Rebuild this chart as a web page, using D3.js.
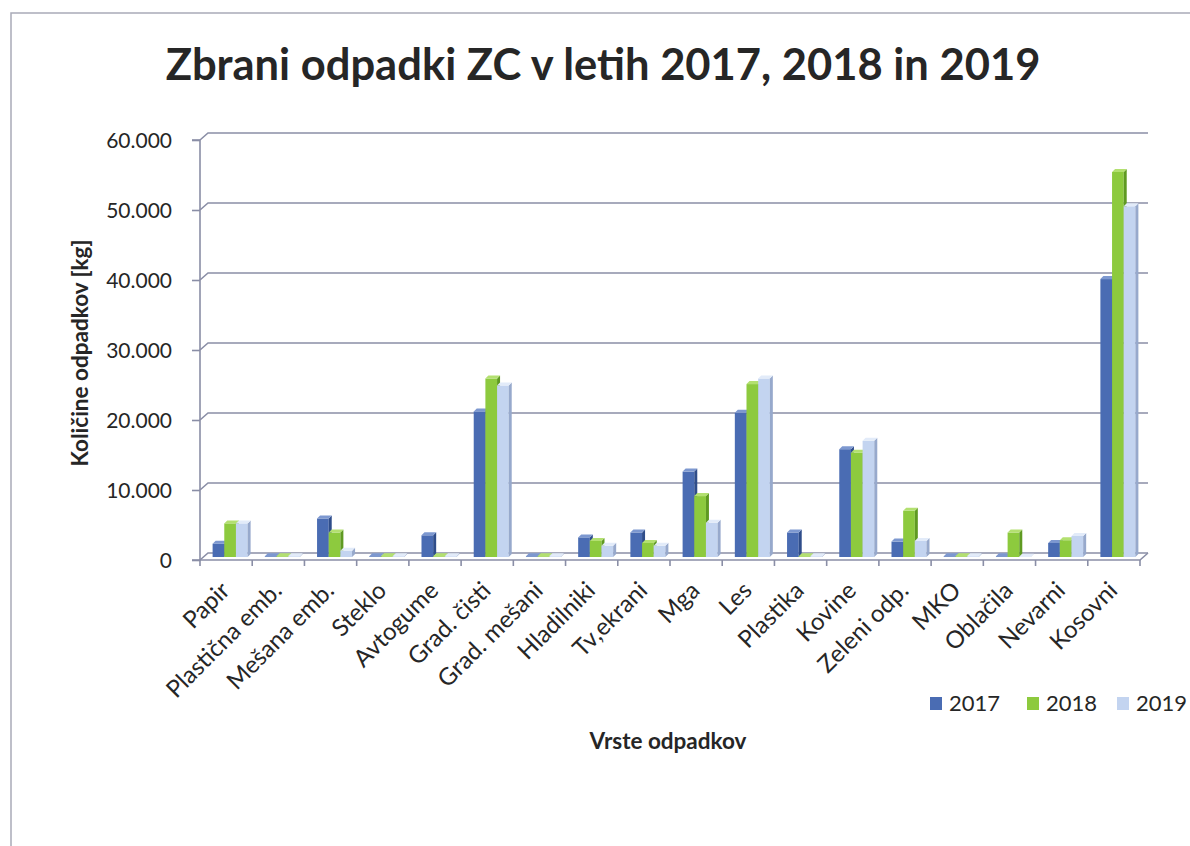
<!DOCTYPE html>
<html>
<head>
<meta charset="utf-8">
<title>Zbrani odpadki ZC</title>
<script src="https://d3js.org/d3.v7.min.js"></script>
<style>
 body { margin:0; background:#fff; }
 .title { font: bold 43.5px Lato, "Open Sans", sans-serif; fill:#262626; }
 .axis text { font: 21px Lato, "Open Sans", sans-serif; fill:#262626; }
 .xlab text { font: 24px Lato, "Open Sans", sans-serif; fill:#262626; }
 .axis-title { font: bold 22.5px Lato, "Open Sans", sans-serif; fill:#262626; }
 .legend text { font: 22px Lato, "Open Sans", sans-serif; fill:#262626; }
 .grid { stroke:#8a8ea6; stroke-width:1.6; fill:none; }
</style>
</head>
<body>
<div id="chart"></div>
<script>
var categories = ["Papir","Plastična emb.","Mešana emb.","Steklo","Avtogume","Grad. čisti","Grad. mešani",
  "Hladilniki","Tv,ekrani","Mga","Les","Plastika","Kovine","Zeleni odp.","MKO","Oblačila","Nevarni","Kosovni"];
var years = ["2017","2018","2019"];
var v2017 = [1900, 100, 5500, 100, 3100, 20800, 100, 2800, 3500, 12200, 20600, 3500, 15400, 2200, 100, 100, 2000, 39700];
var v2018 = [4800, 100, 3500, 100, 100, 25500, 100, 2300, 2000, 8700, 24700, 100, 14900, 6600, 100, 3500, 2400, 55000];
var v2019 = [4800, 100, 900, 100, 100, 24500, 100, 1600, 1600, 4900, 25500, 100, 16600, 2300, 100, 50, 3000, 50100];
var yTicks = [0, 10000, 20000, 30000, 40000, 50000, 60000];
var colors = {"2017":"#4a6cb3", "2018":"#8dca3e", "2019":"#c3d4f0"};
var sideColors = {"2017":"#2f4d8a", "2018":"#5f9a22", "2019":"#97a9cc"};
var topColors = {"2017":"#7d98d0", "2018":"#b3e070", "2019":"#e2ebf9"};

var width = 1190, height = 846;
var left = 200, right = 1140, depth = 8, dy = 7;

var svg = d3.select("#chart").append("svg")
  .attr("width", width).attr("height", height);

// chart border
svg.append("rect").attr("x", 11).attr("y", 13).attr("width", 1200).attr("height", 860)
  .attr("fill", "none").attr("stroke", "#a9abb8").attr("stroke-width", 1.5);

svg.append("text").attr("class", "title")
  .attr("x", 603).attr("y", 80).attr("text-anchor", "middle")
  .text("Zbrani odpadki ZC v letih 2017, 2018 in 2019");

var x = d3.scaleBand().domain(categories).range([left, right]);
var xInner = d3.scaleBand().domain(years).range([0, 35]);
var y = d3.scaleLinear().domain([0, 60000]).range([560, 140]);

// back wall grid lines + side wall diagonals
var grid = svg.append("g");
yTicks.forEach(function(t) {
  grid.append("path").attr("class", "grid")
    .attr("d", "M" + left + "," + y(t) + "L" + (left + depth) + "," + (y(t) - dy) + "L" + (right + depth) + "," + (y(t) - dy));
});
// floor
grid.append("path").attr("class", "grid")
  .attr("d", "M" + left + "," + y(0) + "L" + right + "," + y(0) + "L" + (right + depth) + "," + (y(0) - dy));

// y axis
var yAxis = svg.append("g").attr("class", "axis")
  .attr("transform", "translate(" + left + ",0)")
  .call(d3.axisLeft(y).tickValues(yTicks).tickSize(8).tickPadding(20)
    .tickFormat(function(d) { return d3.format(",")(d).replace(/,/g, "."); }));
yAxis.selectAll("line, path").attr("stroke", "#8a8ea6").attr("stroke-width", 1.6);
yAxis.select(".domain").attr("d", "M-8," + y(60000) + "H0V" + y(0) + "H-8");
yAxis.selectAll("text").attr("dy", "0.35em");

// x axis boundary ticks
var xb = categories.map(function(c) { return x(c); }).concat([right]);
svg.append("g").selectAll("line").data(xb).enter().append("line")
  .attr("x1", function(d) { return d; }).attr("x2", function(d) { return d; })
  .attr("y1", y(0)).attr("y2", y(0) + 6)
  .attr("stroke", "#8a8ea6").attr("stroke-width", 1.6);

// x labels
svg.append("g").attr("class", "xlab").selectAll("text").data(categories).enter().append("text")
  .attr("text-anchor", "end")
  .attr("transform", function(d) {
    return "translate(" + (x(d) + x.bandwidth() / 2 + 5) + "," + (y(0) + 32) + ") rotate(-45)";
  })
  .text(function(d) { return d; });

// bars (3D look)
var series = years.map(function(yr, i) {
  return { year: yr, values: [v2017, v2018, v2019][i] };
});
var d = 3, mid = 3, w = xInner.bandwidth();
var bars = svg.append("g");
categories.forEach(function(c, ci) {
  series.forEach(function(s) {
    var x0 = x(c) + (x.bandwidth() - 35) / 2 + 4 + xInner(s.year);
    var yb = y(0) - mid, yt = y(s.values[ci]) - mid;
    var g = bars.append("g");
    g.append("rect").attr("x", x0).attr("y", yt).attr("width", w).attr("height", Math.max(0, yb - yt))
      .attr("fill", colors[s.year]);
    g.append("path").attr("fill", sideColors[s.year])
      .attr("d", "M" + (x0 + w) + "," + yt + "L" + (x0 + w + d) + "," + (yt - d) + "L" + (x0 + w + d) + "," + (yb - d) + "L" + (x0 + w) + "," + yb + "Z");
    g.append("path").attr("fill", topColors[s.year])
      .attr("d", "M" + x0 + "," + yt + "L" + (x0 + d) + "," + (yt - d) + "L" + (x0 + w + d) + "," + (yt - d) + "L" + (x0 + w) + "," + yt + "Z");
  });
});

// axis titles
svg.append("text").attr("class", "axis-title")
  .attr("transform", "translate(88,353) rotate(-90)").attr("text-anchor", "middle")
  .text("Količine odpadkov [kg]");
svg.append("text").attr("class", "axis-title")
  .attr("x", 668).attr("y", 749).attr("text-anchor", "middle")
  .text("Vrste odpadkov");

// legend
var legendX = [930, 1027, 1117];
var legend = svg.append("g").attr("class", "legend");
years.forEach(function(yr, i) {
  legend.append("rect").attr("x", legendX[i]).attr("y", 697).attr("width", 12).attr("height", 13)
    .attr("fill", colors[yr]);
  legend.append("text").attr("x", legendX[i] + 19).attr("y", 711).text(yr);
});
</script>
</body>
</html>
